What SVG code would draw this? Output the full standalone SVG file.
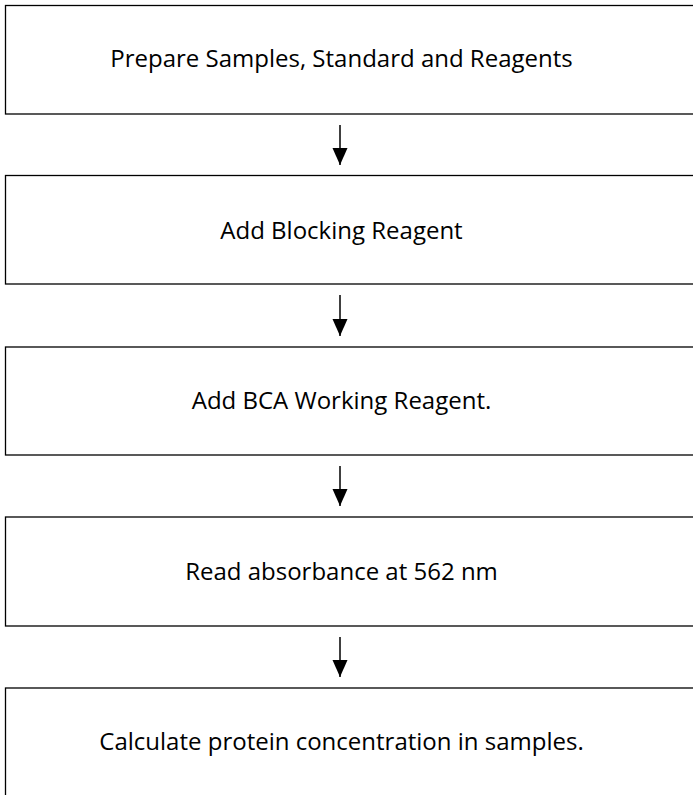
<svg xmlns="http://www.w3.org/2000/svg" width="693" height="795" viewBox="0 0 693 795">
<style>
.box{fill:#fff;stroke:#000;stroke-width:1.3}
.lbl{font-family:"Open Sans","Liberation Sans",sans-serif;font-size:24px;fill:#000;text-anchor:middle}
.conn{stroke:#000;stroke-width:1.5;fill:none}
</style>
<defs>
<marker id="ah" markerWidth="18" markerHeight="16" refX="17" refY="7.5" orient="auto" markerUnits="userSpaceOnUse">
<path d="M0,0 L17,7.5 L0,15 Z" fill="#000"/>
</marker>
</defs>
<rect width="693" height="795" fill="#fff"/>
<g id="n1"><rect class="box" x="5.5" y="5.5" width="700" height="108.5"/><text class="lbl" x="341.5" y="67">Prepare Samples, Standard and Reagents</text></g>
<g id="n2"><rect class="box" x="5.5" y="175.5" width="700" height="108.5"/><text class="lbl" x="341.5" y="238.5">Add Blocking Reagent</text></g>
<g id="n3"><rect class="box" x="5.5" y="347" width="700" height="108"/><text class="lbl" x="341.5" y="409">Add BCA Working Reagent.</text></g>
<g id="n4"><rect class="box" x="5.5" y="517" width="700" height="109"/><text class="lbl" x="341.5" y="579.5">Read absorbance at 562 nm</text></g>
<g id="n5"><rect class="box" x="5.5" y="688" width="700" height="120"/><text class="lbl" x="341.5" y="749.5">Calculate protein concentration in samples.</text></g>
<g id="connectors">
<line class="conn" x1="340" y1="125" x2="340" y2="165" marker-end="url(#ah)"/>
<line class="conn" x1="340" y1="295" x2="340" y2="336" marker-end="url(#ah)"/>
<line class="conn" x1="340" y1="466" x2="340" y2="506" marker-end="url(#ah)"/>
<line class="conn" x1="340" y1="637" x2="340" y2="677" marker-end="url(#ah)"/>
</g>
</svg>
